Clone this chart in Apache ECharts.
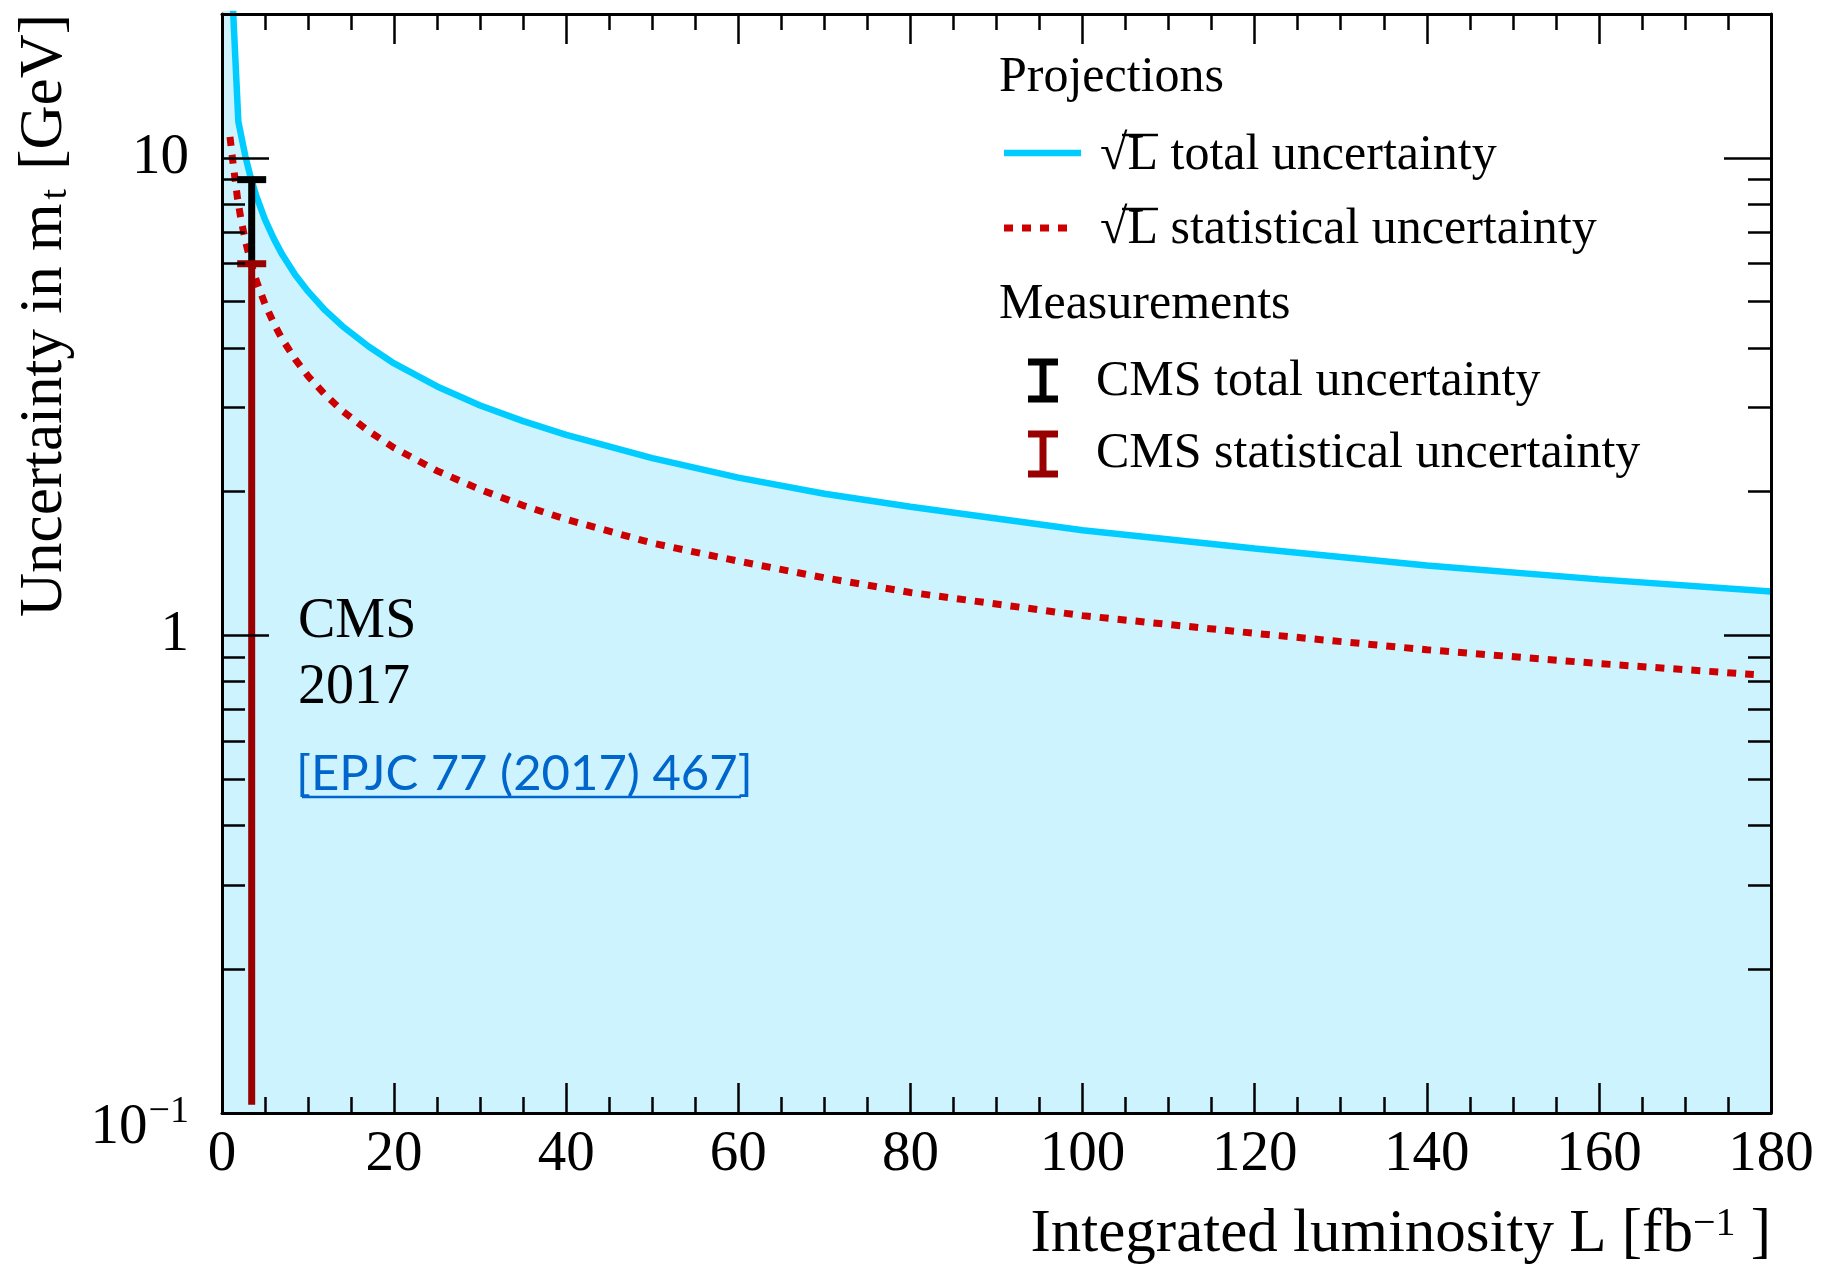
<!DOCTYPE html>
<html><head><meta charset="utf-8">
<script src="https://cdn.jsdelivr.net/npm/echarts@6/dist/echarts.min.js"></script>
<style>html,body{margin:0;padding:0;background:#fff}#c{width:1826px;height:1269px}</style>
</head><body><div id="c"></div>
<script>
// ---- data ----
const totalL = [0.05, 1.9, 2.2, 2.7, 3.3, 4, 5, 6, 7, 8.5, 10, 12, 14, 17, 20, 25, 30, 35, 40, 50, 60, 70, 80, 100, 120, 140, 160, 180];
const totalU = [60, 11.9, 11.19, 10.1, 9.14, 8.3, 7.42, 6.78, 6.27, 5.69, 5.25, 4.79, 4.44, 4.03, 3.71, 3.32, 3.03, 2.81, 2.63, 2.35, 2.14, 1.98, 1.86, 1.66, 1.52, 1.40, 1.31, 1.235];
const statL = [0.93, 1.3, 1.8, 2.2, 2.7, 3.3, 4, 5, 6, 7, 8.5, 10, 12, 14, 17, 20, 25, 30, 35, 40, 50, 60, 70, 80, 100, 120, 140, 160, 178];
const statU = [11.06, 9.68, 8.23, 7.44, 6.72, 6.08, 5.52, 4.94, 4.51, 4.17, 3.79, 3.49, 3.19, 2.95, 2.68, 2.47, 2.21, 2.02, 1.87, 1.75, 1.56, 1.43, 1.32, 1.23, 1.10, 1.01, 0.933, 0.873, 0.828];
const measL = [3.45];
const measTotal = [9.0];
const measStat = [6.0];
const measLow = [0.104];
const xTicks = [0, 20, 40, 60, 80, 100, 120, 140, 160, 180];
const yMajor = [0.1, 1, 10];
const yMajorBase = ['10', '1', '10'];
const yMajorExp = ['\u22121', '', ''];
const yMinor = [0.2, 0.3, 0.4, 0.5, 0.6, 0.7, 0.8, 0.9, 2, 3, 4, 5, 6, 7, 8, 9];

const SERIF = '"Liberation Serif", "DejaVu Serif", serif';
const BLUE = '#00ccff', FILL = '#ccf3fe', RED = '#cc0000', DARKRED = '#990000', LINK = '#0066cc';

const chart = echarts.init(document.getElementById('c'), null, {renderer: 'canvas'});

function yAxisDef(pos, major, showLine, showLabel) {
  return {
    type: 'log', logBase: 10, min: 0.1, max: 20, position: pos, z: 10,
    nameMoveOverlap: false,
    axisLine: {show: showLine, lineStyle: {color: '#000', width: 3}},
    axisTick: {show: true, inside: true, length: major ? 47 : 23, customValues: major ? yMajor : yMinor,
               lineStyle: {color: '#000', width: 2.5}},
    minorTick: {show: false},
    splitLine: {show: false},
    axisLabel: showLabel ? {
      show: true, margin: 33, customValues: yMajor,
      formatter: function (v) {
        let i = 0, best = 1e9;
        yMajor.forEach(function (m, k) { const d = Math.abs(Math.log10(m) - Math.log10(v)); if (d < best) { best = d; i = k; } });
        if (yMajorExp[i]) return '{bl|' + yMajorBase[i] + '}{s|' + yMajorExp[i] + '}';
        return '{b|' + yMajorBase[i] + '}';
      },
      rich: {
        b: {fontSize: 57, fontFamily: SERIF, color: '#000'},
        bl: {fontSize: 57, fontFamily: SERIF, color: '#000', verticalAlign: 'bottom', padding: [30, 0, 0, 0]},
        s: {fontSize: 38, fontFamily: SERIF, color: '#000', verticalAlign: 'top', padding: [24, 0, 0, 1]}
      }
    } : {show: false}
  };
}

function xAxisDef(pos, showLabel) {
  return {
    type: 'value', min: 0, max: 180, interval: 20, position: pos, z: 10,
    nameMoveOverlap: false,
    axisLine: {show: true, lineStyle: {color: '#000', width: 3}},
    axisTick: {show: true, inside: true, length: 30, customValues: xTicks, lineStyle: {color: '#000', width: 2.5}},
    minorTick: {show: true, splitNumber: 4, length: 16, lineStyle: {color: '#000', width: 2.5}},
    splitLine: {show: false}, minorSplitLine: {show: false},
    axisLabel: showLabel ? {show: true, margin: 14, customValues: xTicks, fontSize: 57, fontFamily: SERIF, color: '#000',
      showMinLabel: true, showMaxLabel: true, hideOverlap: false} : {show: false}
  };
}

const xBottom = xAxisDef('bottom', true);
xBottom.name = 'Integrated luminosity L [fb{s|\u22121} ]';
xBottom.nameLocation = 'end';
xBottom.nameGap = 0;
xBottom.nameTextStyle = {fontSize: 61, fontFamily: SERIF, color: '#000', align: 'right', verticalAlign: 'top',
  padding: [91, 0, 0, 0], rich: {s: {fontSize: 40, fontFamily: SERIF, color: '#000', verticalAlign: 'top'}}};

const yLeft = yAxisDef('left', true, true, true);
yLeft.name = 'Uncertainty in m{t|t} [GeV]';
yLeft.nameLocation = 'end';
yLeft.nameRotate = 90;
yLeft.nameGap = 0;
yLeft.nameTextStyle = {fontSize: 61, fontFamily: SERIF, color: '#000', align: 'right', verticalAlign: 'bottom',
  padding: [0, 0, 147, 0], rich: {t: {fontSize: 38, fontFamily: SERIF, color: '#000', verticalAlign: 'bottom', padding: [0, 4, 0, 4]}}};

const option = {
  backgroundColor: '#ffffff',
  animation: false,
  grid: {left: 222, right: 55, top: 14, bottom: 156, containLabel: false, outerBoundsMode: 'none'},
  xAxis: [xBottom, xAxisDef('top', false)],
  yAxis: [yLeft, yAxisDef('left', false, false, false), yAxisDef('right', true, true, false), yAxisDef('right', false, false, false)],
  series: [
    {
      name: 'total', type: 'line', xAxisIndex: 0, yAxisIndex: 0, z: 2,
      data: totalL.map(function (l, i) { return [l, totalU[i]]; }),
      showSymbol: false, symbol: 'none', clip: true, smooth: false,
      lineStyle: {color: BLUE, width: 6.5},
      areaStyle: {color: FILL, opacity: 1, origin: 'start'}
    },
    {
      name: 'stat', type: 'line', xAxisIndex: 0, yAxisIndex: 0, z: 3,
      data: statL.map(function (l, i) { return [l, statU[i]]; }),
      showSymbol: false, symbol: 'none', clip: true,
      lineStyle: {color: RED, width: 7, type: [9, 9], cap: 'butt'}
    },
    {
      name: 'CMS', type: 'custom', xAxisIndex: 0, yAxisIndex: 0, z: 4, clip: false,
      data: measL.map(function (l, i) { return [l, measTotal[i], measStat[i], measLow[i]]; }),
      encode: {x: 0, y: [1, 2, 3]},
      renderItem: function (params, api) {
        const x = api.value(0);
        const pT = api.coord([x, api.value(1)]);
        const pS = api.coord([x, api.value(2)]);
        const pL = api.coord([x, api.value(3)]);
        const hw = 14.5;
        return {type: 'group', children: [
          {type: 'line', shape: {x1: pT[0], y1: pT[1], x2: pS[0], y2: pS[1]}, style: {stroke: '#000', lineWidth: 7}},
          {type: 'line', shape: {x1: pT[0] - hw, y1: pT[1], x2: pT[0] + hw, y2: pT[1]}, style: {stroke: '#000', lineWidth: 7}},
          {type: 'line', shape: {x1: pS[0], y1: pS[1], x2: pL[0], y2: pL[1]}, style: {stroke: DARKRED, lineWidth: 7}},
          {type: 'line', shape: {x1: pS[0] - hw, y1: pS[1], x2: pS[0] + hw, y2: pS[1]}, style: {stroke: DARKRED, lineWidth: 7}}
        ]};
      }
    }
  ],
  graphic: [
    // legend
    {type: 'text', z: 100, style: {x: 999, y: 78, text: 'Projections', font: '50px ' + SERIF, fill: '#000', verticalAlign: 'middle', textVerticalAlign: 'middle'}},
    {type: 'line', z: 100, shape: {x1: 1004, y1: 153, x2: 1081, y2: 153}, style: {stroke: BLUE, lineWidth: 6.5}},
    {type: 'text', z: 100, style: {x: 1100, y: 156, text: '\u221AL total uncertainty', font: '50px ' + SERIF, fill: '#000', verticalAlign: 'middle', textVerticalAlign: 'middle'}},
    {type: 'line', z: 100, shape: {x1: 1122, y1: 135, x2: 1158, y2: 135}, style: {stroke: '#000', lineWidth: 2.5}},
    {type: 'line', z: 100, shape: {x1: 1004, y1: 228, x2: 1071, y2: 228}, style: {stroke: RED, lineWidth: 7, lineDash: [9, 9]}},
    {type: 'text', z: 100, style: {x: 1100, y: 230, text: '\u221AL statistical uncertainty', font: '50px ' + SERIF, fill: '#000', verticalAlign: 'middle', textVerticalAlign: 'middle'}},
    {type: 'line', z: 100, shape: {x1: 1122, y1: 209, x2: 1158, y2: 209}, style: {stroke: '#000', lineWidth: 2.5}},
    {type: 'text', z: 100, style: {x: 999, y: 305, text: 'Measurements', font: '50px ' + SERIF, fill: '#000', verticalAlign: 'middle', textVerticalAlign: 'middle'}},
    {type: 'line', z: 100, shape: {x1: 1043, y1: 359, x2: 1043, y2: 402}, style: {stroke: '#000', lineWidth: 7}},
    {type: 'line', z: 100, shape: {x1: 1028, y1: 362, x2: 1058, y2: 362}, style: {stroke: '#000', lineWidth: 7}},
    {type: 'line', z: 100, shape: {x1: 1028, y1: 399, x2: 1058, y2: 399}, style: {stroke: '#000', lineWidth: 7}},
    {type: 'text', z: 100, style: {x: 1096, y: 382, text: 'CMS total uncertainty', font: '50px ' + SERIF, fill: '#000', verticalAlign: 'middle', textVerticalAlign: 'middle'}},
    {type: 'line', z: 100, shape: {x1: 1043, y1: 431, x2: 1043, y2: 477}, style: {stroke: DARKRED, lineWidth: 7}},
    {type: 'line', z: 100, shape: {x1: 1028, y1: 434, x2: 1058, y2: 434}, style: {stroke: DARKRED, lineWidth: 7}},
    {type: 'line', z: 100, shape: {x1: 1028, y1: 474, x2: 1058, y2: 474}, style: {stroke: DARKRED, lineWidth: 7}},
    {type: 'text', z: 100, style: {x: 1096, y: 454, text: 'CMS statistical uncertainty', font: '50px ' + SERIF, fill: '#000', verticalAlign: 'middle', textVerticalAlign: 'middle'}},
    // CMS label
    {type: 'text', z: 100, style: {x: 298, y: 622, text: 'CMS', font: '56px ' + SERIF, fill: '#000', verticalAlign: 'middle', textVerticalAlign: 'middle'}},
    {type: 'text', z: 100, style: {x: 298, y: 688, text: '2017', font: '56px ' + SERIF, fill: '#000', verticalAlign: 'middle', textVerticalAlign: 'middle'}},
    {type: 'text', z: 100, style: {x: 296, y: 774, text: '[EPJC 77 (2017) 467]', font: '49px Lato, "Open Sans", sans-serif', fill: LINK, verticalAlign: 'middle', textVerticalAlign: 'middle'}},
    {type: 'line', z: 100, shape: {x1: 302, y1: 797, x2: 741, y2: 797}, style: {stroke: LINK, lineWidth: 2.5}}
  ]
};
chart.setOption(option);
</script>
</body></html>
